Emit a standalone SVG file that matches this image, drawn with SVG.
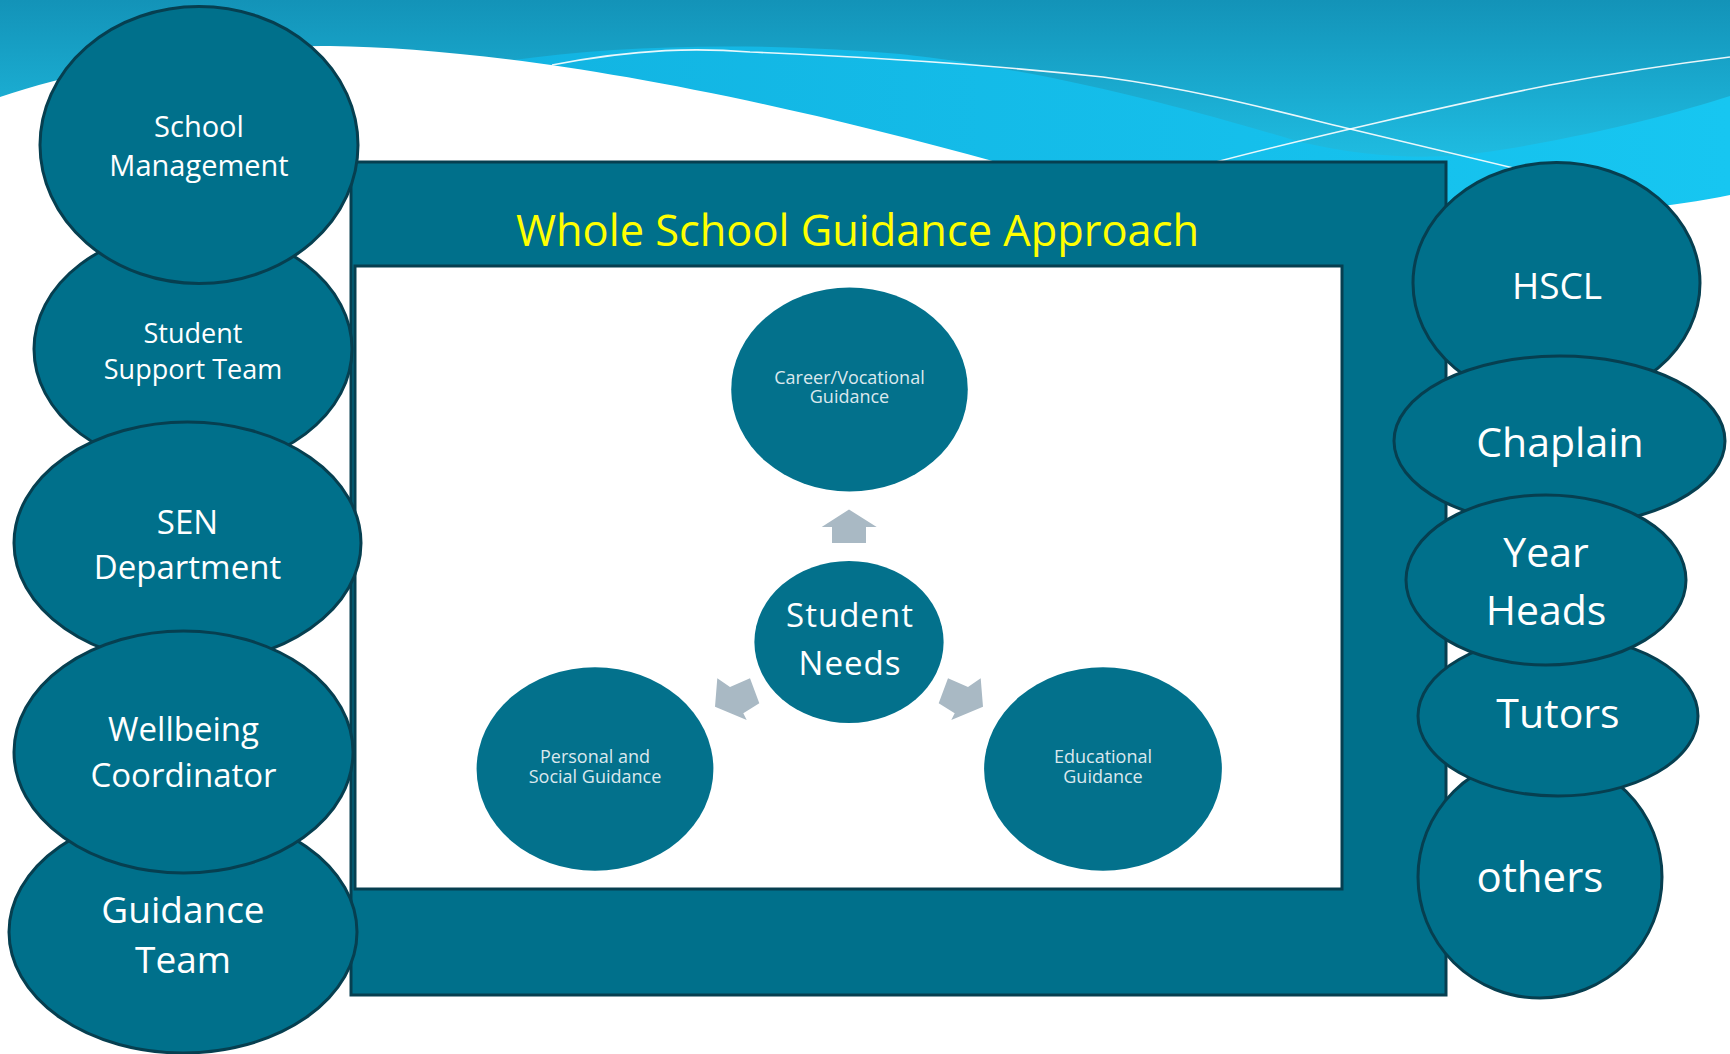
<svg xmlns="http://www.w3.org/2000/svg" width="1730" height="1054" viewBox="0 0 1730 1054">
  <defs>
    <linearGradient id="band" gradientUnits="userSpaceOnUse" x1="0" y1="0" x2="0" y2="170">
      <stop offset="0" stop-color="#1393b8"/>
      <stop offset="1" stop-color="#20bfe4"/>
    </linearGradient>
    <linearGradient id="cyan" gradientUnits="userSpaceOnUse" x1="500" y1="0" x2="1730" y2="0">
      <stop offset="0" stop-color="#12b4e2"/>
      <stop offset="1" stop-color="#17c6f1"/>
    </linearGradient>
    <style>
      .node { fill: #00708b; stroke: #063f50; stroke-width: 3; }
      .inner { fill: #03718c; }
      .lbl { font-family: "Open Sans", "Noto Sans", sans-serif; fill: #ffffff; text-anchor: middle; }
      .sm { font-family: "Open Sans", "Noto Sans", sans-serif; fill: #dbe8ee; text-anchor: middle; font-size: 18px; }
      .arrow { fill: #a9b9c4; }
      .wline { fill: none; stroke: #ffffff; stroke-width: 1.6; opacity: 0.9; }
    </style>
  </defs>

  <!-- background -->
  <rect x="0" y="0" width="1730" height="1054" fill="#ffffff"/>
  <rect x="0" y="0" width="1730" height="280" fill="url(#band)"/>
  <path d="M 500,62 C 620,44 760,42 900,54 C 1050,70 1200,112 1300,142 C 1380,160 1440,160 1500,150 C 1600,134 1680,112 1730,96 L 1730,280 L 500,280 Z" fill="url(#cyan)"/>
  <path d="M 0,97 C 80,70 200,45 330,46 C 480,48 700,80 1000,163 C 1250,225 1550,232 1730,195 L 1730,1054 L 0,1054 Z" fill="#ffffff"/>
  <path class="wline" d="M 552,65 C 640,48 700,48 750,52 C 900,58 1000,66 1103,77 C 1200,90 1280,112 1346,128 L 1530,172"/>
  <path class="wline" d="M 1216,162 C 1300,140 1450,105 1550,85 C 1630,70 1690,62 1730,57"/>

  <!-- frame -->
  <g id="frame">
    <rect x="351" y="162" width="1095" height="833" fill="#00708b" stroke="#063f50" stroke-width="3"/>
    <text x="857.5" y="246" font-family="Open Sans, Noto Sans, sans-serif" font-size="44" fill="#ffff00" text-anchor="middle" textLength="683" lengthAdjust="spacingAndGlyphs">Whole School Guidance Approach</text>
    <rect x="355" y="266" width="987" height="623" fill="#ffffff" stroke="#063f50" stroke-width="3"/>
  </g>

  <!-- inner diagram -->
  <g id="connectors">
    <polygon class="arrow" points="849,509.5 876.7,527 866,527 866,543 832,543 832,527 821.7,527"/>
    <polygon class="arrow" points="715,706.7 717.3,678.3 730,687 750,678.3 759.3,703.3 743.3,713.3 746.7,720"/>
    <polygon class="arrow" points="983,706.7 980.7,678.3 968,687 948,678.3 938.7,703.3 954.7,713.3 951.3,720"/>
  </g>

  <g id="career">
    <ellipse class="inner" cx="849.5" cy="389.5" rx="118.3" ry="102"/>
    <text class="sm" x="849.5" y="384">Career/Vocational</text>
    <text class="sm" x="849.5" y="403">Guidance</text>
  </g>
  <g id="student-needs">
    <ellipse class="inner" cx="849" cy="642" rx="94.6" ry="81"/>
    <text class="lbl" x="850" y="627" font-size="33" letter-spacing="1">Student</text>
    <text class="lbl" x="850" y="675" font-size="33" letter-spacing="1">Needs</text>
  </g>
  <g id="personal">
    <ellipse class="inner" cx="595" cy="769" rx="118.4" ry="101.7"/>
    <text class="sm" x="595" y="763">Personal and</text>
    <text class="sm" x="595" y="783">Social Guidance</text>
  </g>
  <g id="educational">
    <ellipse class="inner" cx="1103" cy="769" rx="118.9" ry="101.7"/>
    <text class="sm" x="1103" y="763">Educational</text>
    <text class="sm" x="1103" y="783">Guidance</text>
  </g>

  <!-- left nodes -->
  <g id="student-support-team">
    <ellipse class="node" cx="193" cy="349" rx="159" ry="120"/>
    <text class="lbl" x="193" y="343" font-size="27">Student</text>
    <text class="lbl" x="193" y="379" font-size="27">Support Team</text>
  </g>
  <g id="school-management">
    <ellipse class="node" cx="199" cy="145" rx="159" ry="138.5"/>
    <text class="lbl" x="199" y="137" font-size="29">School</text>
    <text class="lbl" x="199" y="176" font-size="29">Management</text>
  </g>
  <g id="sen-department">
    <ellipse class="node" cx="187.5" cy="543" rx="173.5" ry="121"/>
    <text class="lbl" x="187.5" y="534" font-size="33">SEN</text>
    <text class="lbl" x="187.5" y="579" font-size="33">Department</text>
  </g>
  <g id="guidance-team">
    <ellipse class="node" cx="183" cy="932" rx="174" ry="121"/>
    <text class="lbl" x="183" y="923" font-size="37">Guidance</text>
    <text class="lbl" x="183" y="973" font-size="37">Team</text>
  </g>
  <g id="wellbeing-coordinator">
    <ellipse class="node" cx="183.5" cy="752" rx="169.5" ry="121"/>
    <text class="lbl" x="183.5" y="741" font-size="33">Wellbeing</text>
    <text class="lbl" x="183.5" y="787" font-size="33">Coordinator</text>
  </g>

  <!-- right nodes -->
  <g id="hscl">
    <ellipse class="node" cx="1556.5" cy="283" rx="143.5" ry="120.5"/>
    <text class="lbl" x="1557" y="299" font-size="37">HSCL</text>
  </g>
  <g id="chaplain">
    <ellipse class="node" cx="1559.5" cy="441" rx="165.5" ry="85"/>
    <text class="lbl" x="1560" y="457" font-size="41">Chaplain</text>
  </g>
  <g id="others">
    <ellipse class="node" cx="1540" cy="877" rx="122" ry="121"/>
    <text class="lbl" x="1540" y="892" font-size="42">others</text>
  </g>
  <g id="tutors">
    <ellipse class="node" cx="1558" cy="716" rx="140" ry="80"/>
    <text class="lbl" x="1558" y="728" font-size="41">Tutors</text>
  </g>
  <g id="year-heads">
    <ellipse class="node" cx="1546" cy="580" rx="140" ry="85"/>
    <text class="lbl" x="1546" y="567" font-size="41">Year</text>
    <text class="lbl" x="1546" y="625" font-size="41">Heads</text>
  </g>
</svg>
